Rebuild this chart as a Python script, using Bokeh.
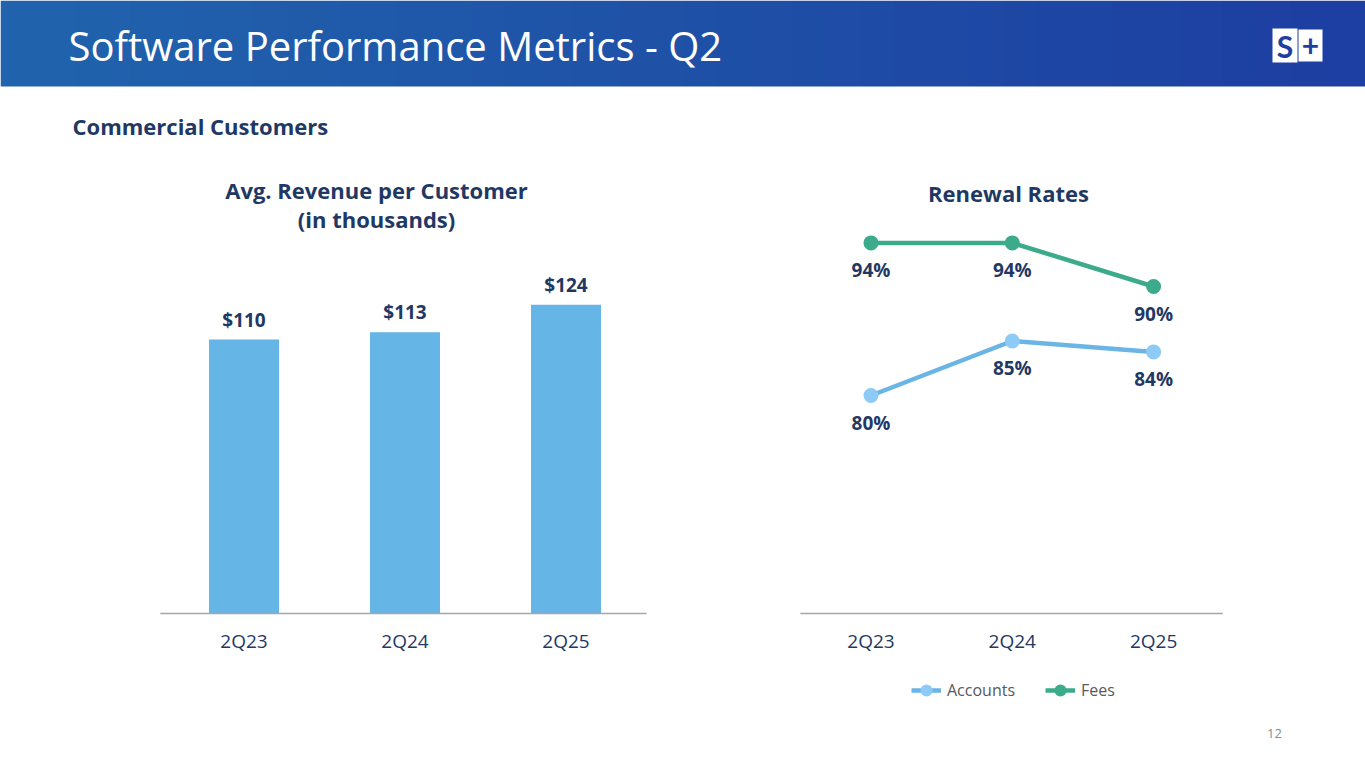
import numpy as np
from bokeh.plotting import figure
from bokeh.models import Range1d, Legend, LegendItem
from bokeh.core.properties import value
from bokeh.embed import file_html
from bokeh.resources import INLINE

# ---------------- data ----------------
quarters = ["2Q23", "2Q24", "2Q25"]
avg_revenue = [110, 113, 124]
revenue_labels = ["$110", "$113", "$124"]
accounts_rate = [80, 85, 84]
fees_rate = [94, 94, 90]
accounts_labels = ["80%", "85%", "84%"]
fees_labels = ["94%", "94%", "90%"]

FONT = "Open Sans"
NAVY = "#1f3864"
BAR_BLUE = "#65b5e6"
ACC_LINE = "#6ab4e6"
ACC_MARK = "#8dcbf6"
FEES = "#3cab8b"
AXIS_GRAY = "#a6a6a6"
W, H = 1365, 768

# slide: one figure whose frame is the whole page, pixel coordinates (y up)
p = figure(width=W, height=H, x_range=Range1d(0, W), y_range=Range1d(0, H),
           toolbar_location=None, output_backend="svg", min_border=0,
           x_axis_location=None, y_axis_location=None)
p.xgrid.visible = False
p.ygrid.visible = False
p.outline_line_color = None
p.background_fill_color = "white"
p.border_fill_color = "white"


def span_range(px_at_first, px_per_unit, first, total):
    """range so that value `first` sits at pixel `px_at_first` with given scale"""
    start = first - px_at_first / px_per_unit
    return Range1d(start, start + total / px_per_unit)


AXIS_PX = H - 613   # baseline of both charts, measured from bottom
p.extra_x_ranges = {"bar_x": span_range(243.5, 161.0, 0, W),
                    "line_x": span_range(870.5, 141.3, 0, W)}
p.extra_y_ranges = {"bar_y": span_range(AXIS_PX, 2.49, 0, H),
                    "line_y": span_range(AXIS_PX, 10.9, 60, H)}

idx = list(range(len(quarters)))

# ---------------- header ----------------
band_h = 86
c0 = np.array([0x21, 0x64, 0xad], dtype=float)
c1 = np.array([0x1d, 0x3e, 0xa2], dtype=float)
t = np.linspace(0, 1, 200)
cols = (c0[None, :] * (1 - t[:, None]) + c1[None, :] * t[:, None]).astype(np.uint32)
rgba = (255 << 24) | (cols[:, 2] << 16) | (cols[:, 1] << 8) | cols[:, 0]
img = np.tile(rgba[None, :], (2, 1)).astype(np.uint32)
p.image_rgba(image=[img], x=0, y=H - band_h, dw=W, dh=band_h)
p.text(x=[68], y=[H - 45], text=["Software Performance Metrics - Q2"],
       text_font=value(FONT), text_font_size="40px", text_color="white",
       text_baseline="middle")
# logo
p.rect(x=[1284.5, 1310], y=[H - 45, H - 45], width=[25, 24], height=[34, 32],
       fill_color="white", line_color=None)
p.text(x=[1284.5, 1310], y=[H - 45, H - 45], text=["S", "+"],
       text_font=value("Lato"), text_font_style="bold", text_font_size="30px",
       text_color="#1e3fa2", text_align="center", text_baseline="middle")
p.text(x=[72], y=[H - 125], text=["Commercial Customers"],
       text_font=value(FONT), text_font_style="bold", text_font_size="22px",
       text_color=NAVY, text_baseline="middle")
# chart titles
p.text(x=[376, 376, 1008], y=[H - 189, H - 218, H - 192],
       text=["Avg. Revenue per Customer", "(in thousands)", "Renewal Rates"],
       text_font=value(FONT), text_font_style="bold", text_font_size="22px",
       text_color=NAVY, text_align="center", text_baseline="middle")

# ---------------- bar chart ----------------
BR = dict(x_range_name="bar_x", y_range_name="bar_y")
p.vbar(x=idx, top=avg_revenue, width=0.435, fill_color=BAR_BLUE, line_color=None, **BR)
p.text(x=idx, y=avg_revenue, text=revenue_labels, text_font=value(FONT),
       text_font_style="bold", text_font_size="19px", text_color=NAVY,
       text_align="center", text_baseline="bottom", y_offset=-7, **BR)
p.segment(x0=[idx[0] - 0.52], x1=[idx[-1] + 0.5], y0=[0], y1=[0],
          line_color=AXIS_GRAY, line_width=1.5, **BR)
p.text(x=idx, y=[0] * len(idx), text=quarters, text_font=value(FONT),
       text_font_size="19px", text_color=NAVY, text_align="center",
       text_baseline="middle", y_offset=27, **BR)

# ---------------- line chart ----------------
LR = dict(x_range_name="line_x", y_range_name="line_y")
p.segment(x0=[idx[0] - 0.5], x1=[idx[-1] + 0.49], y0=[60], y1=[60],
          line_color=AXIS_GRAY, line_width=1.5, **LR)
p.text(x=idx, y=[60] * len(idx), text=quarters, text_font=value(FONT),
       text_font_size="19px", text_color=NAVY, text_align="center",
       text_baseline="middle", y_offset=27, **LR)
acc_l = p.line(idx, accounts_rate, line_color=ACC_LINE, line_width=4.5, **LR)
acc_m = p.scatter(idx, accounts_rate, size=15, fill_color=ACC_MARK, line_color=None, **LR)
fee_l = p.line(idx, fees_rate, line_color=FEES, line_width=4.5, **LR)
fee_m = p.scatter(idx, fees_rate, size=15, fill_color=FEES, line_color=None, **LR)
p.text(x=idx, y=accounts_rate, text=accounts_labels, text_font=value(FONT),
       text_font_style="bold", text_font_size="19px", text_color=NAVY,
       text_align="center", text_baseline="middle", y_offset=27, **LR)
p.text(x=idx, y=fees_rate, text=fees_labels, text_font=value(FONT),
       text_font_style="bold", text_font_size="19px", text_color=NAVY,
       text_align="center", text_baseline="middle", y_offset=27, **LR)

legend = Legend(items=[LegendItem(label="Accounts", renderers=[acc_l, acc_m]),
                       LegendItem(label="Fees", renderers=[fee_l, fee_m])],
                orientation="horizontal", location=(911, H - 706),
                label_text_font=FONT, label_text_font_size="16px",
                label_text_color="#595959", border_line_color=None,
                background_fill_alpha=0, glyph_width=30, glyph_height=32,
                label_height=32, spacing=30, label_standoff=6, padding=0, margin=0)
p.add_layout(legend)

# ---------------- page number ----------------
p.text(x=[1274], y=[H - 733], text=["12"], text_font=value(FONT),
       text_font_size="13px", text_color="#8c8c8c", text_align="center",
       text_baseline="middle")

open("out.html", "w").write(file_html(p, INLINE))
